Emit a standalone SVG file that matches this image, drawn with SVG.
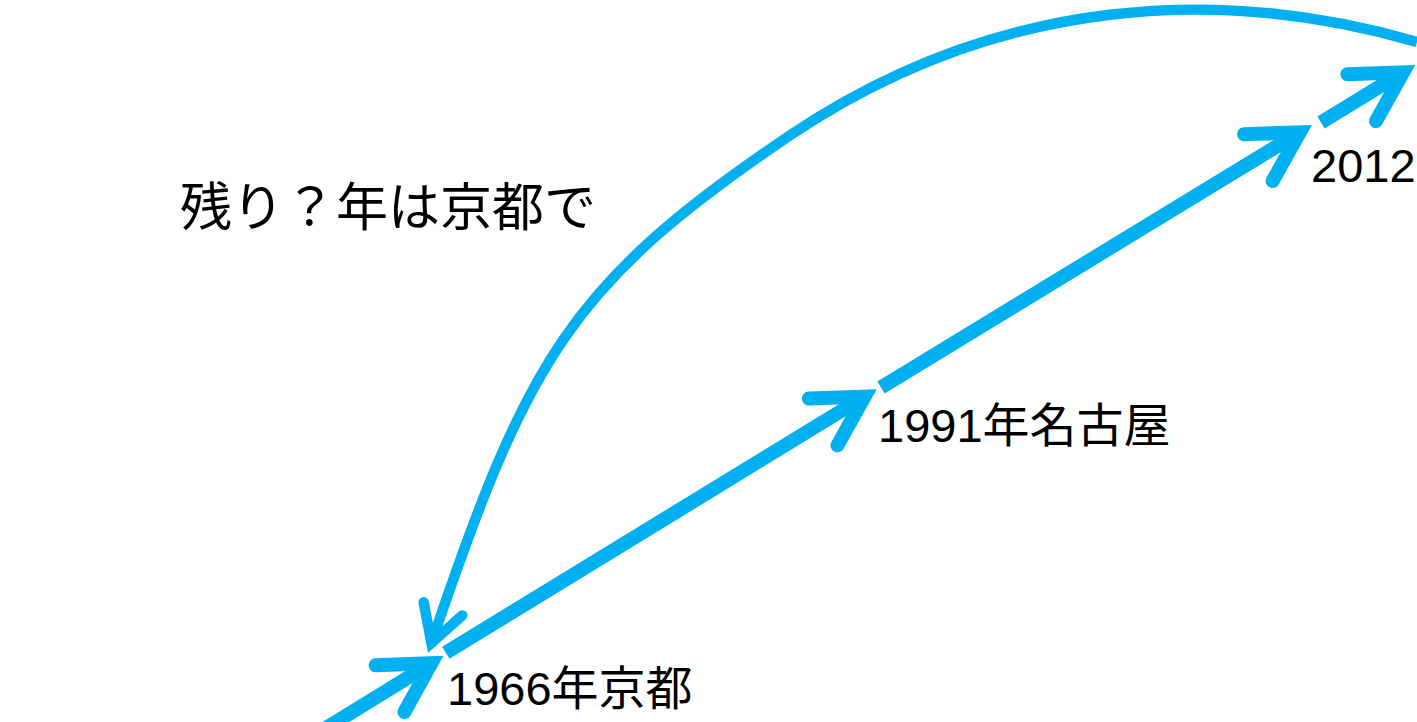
<svg xmlns="http://www.w3.org/2000/svg" width="1417" height="722" viewBox="0 0 1417 722">
  <style>
    .conn { fill: none; stroke: #00B0F0; stroke-linecap: butt; }
    .main { stroke-width: 14; }
    .curve { stroke-width: 10.4; }
    .lbl { font-family: "Liberation Sans", "Noto Sans CJK JP", sans-serif; font-size: 47px; fill: #000000; }
    .title { font-family: "Noto Sans CJK JP", sans-serif; font-size: 52px; fill: #000000; }
  </style>
  <defs>
    <marker id="arrow" markerUnits="strokeWidth" markerWidth="8" markerHeight="8" refX="0" refY="0" orient="auto" overflow="visible">
      <path d="M-3.47,-1.96 L0,0 L-3.47,1.96" fill="none" stroke="#00B0F0" stroke-width="1" stroke-linecap="round" stroke-linejoin="miter" stroke-miterlimit="10"/>
    </marker>
  </defs>
  <rect x="0" y="0" width="1417" height="722" fill="#FFFFFF"/>
  <g id="connectors">
    <path id="seg-a" class="conn main" d="M261,768 L431.4,663.3" marker-end="url(#arrow)"/>
    <path id="seg-b" class="conn main" d="M445.8,652.8 L864.6,396.6" marker-end="url(#arrow)"/>
    <path id="seg-c" class="conn main" d="M881,387.5 L1299.8,132.3" marker-end="url(#arrow)"/>
    <path id="seg-d" class="conn main" d="M1321,122.5 L1403.1,72.3" marker-end="url(#arrow)"/>
    <path id="return-arc" class="conn curve" d="M1417,42 C1224,-14 1000,-6 789,136 C570,284 527.4,358.9 431.4,643" marker-end="url(#arrow)"/>
  </g>
  <g id="node-title">
    <text class="title" x="180" y="226">残り？年は京都で</text>
  </g>
  <g id="node-1966">
    <text class="lbl" x="447" y="705">1966年京都</text>
  </g>
  <g id="node-1991">
    <text class="lbl" x="878" y="442">1991年名古屋</text>
  </g>
  <g id="node-2012">
    <text class="lbl" x="1311" y="182">2012</text>
  </g>
</svg>
